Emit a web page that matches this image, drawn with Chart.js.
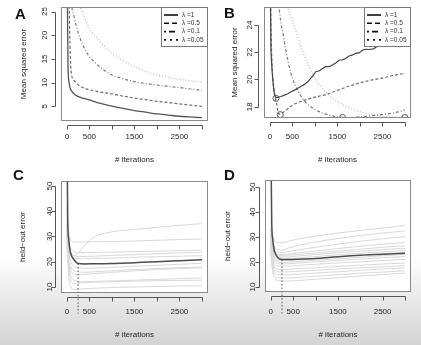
<!DOCTYPE html>
<html>
<head>
<meta charset="utf-8">
<script src="https://cdn.jsdelivr.net/npm/chart.js@4.4.1/dist/chart.umd.min.js"></script>
<style>
  html, body { margin: 0; padding: 0; }
  body { width: 421px; height: 345px; position: relative; overflow: hidden;
    background: linear-gradient(to bottom, #fff 0%, #fff 74%, #d3d3d3 100%); }
  canvas { position: absolute; }
  .tag { position: absolute; font: bold 15px "Liberation Sans", Arial, sans-serif; line-height: 15px; color: #111; }
</style>
</head>
<body>
<canvas id="chartA" width="210" height="172" style="left:0;top:0"></canvas>
<canvas id="chartB" width="211" height="172" style="left:210px;top:0"></canvas>
<canvas id="chartC" width="210" height="173" style="left:0;top:172px"></canvas>
<canvas id="chartD" width="211" height="173" style="left:210px;top:172px"></canvas>
<div class="tag" style="left:15px;top:6px">A</div>
<div class="tag" style="left:224px;top:5px">B</div>
<div class="tag" style="left:13px;top:167px">C</div>
<div class="tag" style="left:224px;top:167px">D</div>
<script>
// ---- data ----
const iterTicks = [0, 500, 1000, 1500, 2000, 2500, 3000];
const iterTickLabels = ["0", "500", "", "1500", "", "2500", ""];
const lambdaLabels = ["λ =1", "λ =0.5", "λ =0.1", "λ =0.05"];

// panel A: training mean squared error
const trainIter = [0, 25, 50, 75, 100, 150, 200, 300, 400, 500, 750, 1000, 1250, 1500, 1750, 2000, 2250, 2500, 2750, 3000];
const trainLam1 = [40, 14, 10, 8.8, 8.3, 7.7, 7.3, 6.9, 6.6, 6.35, 5.6, 5.05, 4.55, 4.1, 3.75, 3.4, 3.15, 2.9, 2.75, 2.6];
const trainLam05 = [60, 42, 27, 16, 12, 10.6, 10, 9.2, 8.8, 8.5, 8.0, 7.6, 7.15, 6.75, 6.4, 6.05, 5.8, 5.5, 5.25, 5.0];
const trainLam01 = [40, 36, 32, 29, 26.5, 24.3, 22.3, 19.2, 17.0, 15.5, 13.2, 11.6, 10.8, 10.2, 9.8, 9.5, 9.2, 8.95, 8.65, 8.4];
const trainLam005 = [38, 36.5, 35, 33.5, 32.2, 30.2, 28.6, 25.9, 23.5, 21.5, 18.5, 16.3, 14.6, 13.4, 12.4, 11.6, 11.1, 10.7, 10.4, 10.15];

// panel B: test mean squared error
const testIterLam1 = [0, 25, 50, 75, 100, 135, 175, 250, 320, 400, 470, 540, 620, 700, 760, 840, 950, 1020, 1100, 1170, 1240, 1320, 1390, 1470, 1540, 1610, 1690, 1760, 1840, 1910, 1990, 2060, 2130, 2200, 2300, 2400, 2500, 2600, 2700, 2800, 2900, 3000];
const testLam1 = [30, 22.0, 20.6, 19.6, 18.95, 18.65, 18.68, 18.75, 18.85, 18.95, 19.1, 19.2, 19.35, 19.5, 19.62, 19.83, 20.25, 20.57, 20.64, 20.81, 20.94, 20.94, 21.06, 21.23, 21.43, 21.43, 21.55, 21.72, 21.8, 21.92, 21.97, 22.16, 22.21, 22.2, 22.25, 22.45, 22.6, 22.75, 22.9, 23.0, 23.1, 23.2];
const testLam05 = [30, 24, 21, 19.8, 19.0, 18.2, 17.45, 17.6, 17.85, 18.1, 18.45, 18.7, 18.9, 19.2, 19.5, 19.75, 19.95, 20.1, 20.3, 20.45];
const testLam01 = [60, 50, 43, 38, 34, 29, 25.6, 23.2, 21.4, 20.1, 18.5, 17.8, 17.45, 17.25, 17.2, 17.25, 17.33, 17.42, 17.55, 17.75];
const testLam005 = [33, 32, 31, 30.4, 29.8, 28.7, 27.7, 26.4, 25.25, 24.3, 21.9, 20.1, 19.05, 18.37, 17.93, 17.65, 17.45, 17.32, 17.24, 17.2];
const minIter = [134, 232, 1615, 3000];
const minMse = [18.61, 17.42, 17.21, 17.21];

// panels C and D: held-out error per fold and the average
const meanIter = [0, 20, 40, 70, 100, 150, 250, 400, 600, 1000, 1500, 2000, 2500, 3000];
const heldIter = [0, 50, 100, 150, 250, 400, 600, 1000, 1500, 2000, 2500, 3000];
const bestIter = 250;
const meanC = [75, 36, 29, 24.5, 22.5, 21.0, 19.3, 19.15, 19.2, 19.3, 19.65, 20.0, 20.4, 20.8];
const bestC = [19.3, -0.6];
const foldsC = [
  [40, 27, 23.5, 22.5, 23.5, 26.5, 29.8, 31.8, 32.8, 33.6, 34.4, 35.1],
  [42, 31, 28.5, 28, 27.8, 27.8, 27.9, 28.0, 28.2, 28.5, 28.8, 29.0],
  [38, 28, 25, 24, 23.7, 23.6, 23.7, 23.8, 24.0, 24.2, 24.4, 24.6],
  [36, 26, 23, 22.4, 22.1, 22.1, 22.2, 22.5, 22.8, 23.2, 23.5, 23.8],
  [35, 25, 22.5, 21.6, 21.2, 21.2, 21.3, 21.5, 21.8, 22.0, 22.2, 22.4],
  [34, 23, 19.5, 18.3, 17.6, 17.4, 17.5, 17.8, 18.2, 18.6, 19.0, 19.4],
  [33, 21, 17.5, 16.5, 16.0, 15.8, 16.0, 16.4, 16.9, 17.3, 17.6, 17.9],
  [31, 20, 16.2, 15.3, 14.9, 15.0, 15.3, 15.8, 16.4, 16.9, 17.3, 17.6],
  [30, 18, 13.8, 12.8, 12.2, 12.1, 12.2, 12.4, 12.7, 13.0, 13.3, 13.6],
  [28, 16, 12.0, 11.4, 11.5, 11.7, 11.9, 12.1, 12.3, 12.5, 12.6, 12.7],
  [26, 13, 9.6, 9.0, 9.1, 9.3, 9.5, 9.8, 10.0, 10.2, 10.4, 10.5]
];
const meanD = [75, 36, 29.5, 25.2, 23.5, 21.9, 21.0, 21.0, 21.1, 21.4, 22.1, 22.7, 23.1, 23.5];
const bestD = [21.0, -0.6];
const foldsD = [
  [36, 30, 28.2, 27.8, 27.7, 28.3, 29.2, 30.3, 31.6, 32.6, 33.6, 34.5],
  [34, 28, 25.5, 24.9, 24.8, 25.6, 26.6, 28.0, 29.4, 30.6, 31.6, 32.4],
  [33, 27, 24.6, 24.0, 23.8, 24.2, 24.8, 25.9, 27.2, 28.3, 29.3, 30.2],
  [32, 26, 23.8, 23.2, 23.0, 23.2, 23.6, 24.4, 25.4, 26.3, 27.1, 27.8],
  [31, 25.5, 23.2, 22.7, 22.5, 22.7, 23.0, 23.6, 24.4, 25.1, 25.9, 26.5],
  [31, 25, 22.7, 22.2, 22.0, 22.1, 22.4, 23.0, 23.7, 24.3, 25.0, 25.5],
  [30, 24, 21.9, 21.4, 21.2, 21.3, 21.6, 22.2, 22.9, 23.5, 24.1, 24.6],
  [29, 23.5, 21.2, 20.7, 20.5, 20.6, 20.9, 21.5, 22.1, 22.7, 23.3, 23.8],
  [29, 23, 20.5, 20.0, 19.8, 19.9, 20.2, 20.7, 21.3, 21.9, 22.5, 23.0],
  [28, 22, 19.9, 19.4, 19.2, 19.3, 19.6, 20.1, 20.6, 21.2, 21.7, 22.2],
  [28, 21, 19.0, 18.5, 18.3, 18.4, 18.6, 19.1, 19.6, 20.1, 20.6, 21.0],
  [27, 20, 17.7, 17.2, 17.0, 17.1, 17.3, 17.7, 18.2, 18.7, 19.2, 19.6],
  [26, 19, 16.7, 16.2, 16.0, 16.1, 16.3, 16.7, 17.2, 17.7, 18.1, 18.5],
  [25, 18, 15.6, 15.0, 14.8, 14.9, 15.1, 15.6, 16.1, 16.7, 17.2, 17.6],
  [24, 16.5, 14.3, 13.7, 13.5, 13.6, 13.8, 14.3, 14.9, 15.5, 16.0, 16.5],
  [23, 15.5, 13.2, 12.6, 12.4, 12.4, 12.6, 13.1, 13.7, 14.4, 15.0, 15.6]
];

// ---- styling ----
const fontFamily = '"Liberation Sans", Arial, sans-serif';
const textColor = "#262626";
const lamStyles = [
  { color: "#555", width: 1.3, dash: [], legendDash: [] },
  { color: "#6e6e6e", width: 1.2, dash: [3, 2], legendDash: [5, 3] },
  { color: "#7a7a7a", width: 1.2, dash: [1, 2, 3, 2], legendDash: [2, 3, 6, 3] },
  { color: "#b5b5b5", width: 1.2, dash: [1, 2], legendDash: [2, 4] }
];

const pts = (xs, ys) => xs.map((x, i) => ({ x: x, y: ys[i] }));

function lineSet(data, color, width, dash, extra) {
  return Object.assign({
    data: data, borderColor: color, borderWidth: width, borderDash: dash,
    pointRadius: 0, fill: false, cubicInterpolationMode: "monotone"
  }, extra || {});
}

// box around the plot + R-like detached axes
const rStyle = {
  id: "rStyle",
  beforeDatasetsDraw(chart) {
    const { ctx, chartArea: a } = chart;
    ctx.save();
    ctx.fillStyle = "#fff";
    ctx.fillRect(a.left, a.top, a.width, a.height);
    ctx.restore();
  },
  afterDraw(chart) {
    const { ctx, chartArea: a, scales } = chart;
    const x = scales.x, y = scales.y;
    ctx.save();
    ctx.strokeStyle = "#8a8a8a";
    ctx.lineWidth = 1;
    ctx.strokeRect(a.left + 0.5, a.top + 0.5, a.width - 1, a.height - 1);
    ctx.strokeStyle = "#555";
    ctx.beginPath();
    const xs = x.ticks.map(t => Math.round(x.getPixelForValue(t.value)) + 0.5);
    const ay = Math.round(a.bottom) + 4.5;
    ctx.moveTo(xs[0], ay); ctx.lineTo(xs[xs.length - 1], ay);
    xs.forEach(px => { ctx.moveTo(px, ay); ctx.lineTo(px, ay + 4); });
    const ys = y.ticks.map(t => Math.round(y.getPixelForValue(t.value)) + 0.5);
    const ax = Math.round(a.left) - 5.5;
    ctx.moveTo(ax, ys[0]); ctx.lineTo(ax, ys[ys.length - 1]);
    ys.forEach(py => { ctx.moveTo(ax, py); ctx.lineTo(ax - 4, py); });
    ctx.stroke();
    ctx.restore();
  }
};

const rLegend = {
  id: "rLegend",
  afterDraw(chart, args, opts) {
    if (!opts.show) return;
    const { ctx, chartArea: a } = chart;
    const w = 47, h = 40;
    const left = a.right - w, top = a.top;
    ctx.save();
    ctx.fillStyle = "#fff";
    ctx.fillRect(left, top, w, h);
    ctx.strokeStyle = "#7a7a7a";
    ctx.lineWidth = 1;
    ctx.strokeRect(left + 0.5, top + 0.5, w - 1, h - 1);
    lambdaLabels.forEach((label, i) => {
      const yy = top + 8 + i * 8.3;
      ctx.setLineDash(lamStyles[i].legendDash);
      ctx.strokeStyle = "#111";
      ctx.lineWidth = 1.6;
      ctx.beginPath(); ctx.moveTo(left + 3, yy); ctx.lineTo(left + 17, yy); ctx.stroke();
      ctx.setLineDash([]);
      ctx.fillStyle = "#333";
      ctx.font = "6.5px " + fontFamily;
      ctx.textBaseline = "middle";
      ctx.fillText(label, left + 21, yy);
    });
    ctx.restore();
  }
};

function makeChart(id, datasets, p) {
  return new Chart(document.getElementById(id), {
    type: "line",
    data: { datasets: datasets },
    plugins: [rStyle, rLegend],
    options: {
      responsive: false, animation: false, events: [],
      layout: { padding: p.padding },
      plugins: { legend: { display: false }, tooltip: { enabled: false }, rLegend: { show: !!p.legend } },
      scales: {
        x: {
          type: "linear", min: -130, max: 3135,
          grid: { display: false, drawTicks: false }, border: { display: false },
          afterBuildTicks: s => { s.ticks = iterTicks.map(v => ({ value: v })); },
          ticks: { font: { family: fontFamily, size: 8 }, color: textColor, padding: p.xPad,
                   autoSkip: false, maxRotation: 0, callback: (v, i) => iterTickLabels[i] },
          title: { display: true, text: "# iterations", font: { family: fontFamily, size: 8 },
                   color: textColor, padding: { top: 0, bottom: p.xTitlePad } },
          afterFit: s => { s.height = p.xHeight; s.paddingLeft = 0; s.paddingRight = 0; }
        },
        y: {
          type: "linear", min: p.yMin, max: p.yMax,
          grid: { display: false, drawTicks: false }, border: { display: false },
          afterBuildTicks: s => { s.ticks = p.yTicks.map(v => ({ value: v })); },
          ticks: { font: { family: fontFamily, size: 8 }, color: textColor, padding: p.yPad,
                   minRotation: 90, maxRotation: 90, crossAlign: "center" },
          title: { display: true, text: p.yTitle, font: { family: fontFamily, size: 8 },
                   color: textColor, padding: { top: p.yTitlePad, bottom: 0 } },
          afterFit: s => { s.width = p.yWidth; s.paddingTop = 0; s.paddingBottom = 0; }
        }
      }
    }
  });
}

// A
const trainSeries = [trainLam1, trainLam05, trainLam01, trainLam005];
makeChart("chartA",
  trainSeries.map((ys, i) => lineSet(pts(trainIter, ys), lamStyles[i].color, lamStyles[i].width, lamStyles[i].dash)),
  { padding: { top: 7, right: 2, left: 0, bottom: 0 }, yWidth: 61, xHeight: 51,
    yMin: 1.9, yMax: 25.95, yTicks: [5, 10, 15, 20, 25], xPad: 11, xTitlePad: 7, yPad: 11.5, yTitlePad: 19,
    yTitle: "Mean squared error", legend: true });

// B
makeChart("chartB", [
  lineSet(pts(minIter, minMse), "#555", 1, [], { showLine: false, pointRadius: 3, pointBorderColor: "#555",
    pointBackgroundColor: "rgba(0,0,0,0)", pointBorderWidth: 1 }),
  lineSet(pts(testIterLam1, testLam1), "#444", 1.2, [], { cubicInterpolationMode: "default", tension: 0 }),
  lineSet(pts(trainIter, testLam05), lamStyles[1].color, 1.2, lamStyles[1].dash),
  lineSet(pts(trainIter, testLam01), lamStyles[2].color, 1.2, lamStyles[2].dash),
  lineSet(pts(trainIter, testLam005), lamStyles[3].color, 1.2, lamStyles[3].dash)
], { padding: { top: 7, right: 10, left: 0, bottom: 0 }, yWidth: 54, xHeight: 54,
     yMin: 17.17, yMax: 25.32, yTicks: [18, 20, 22, 24], xPad: 14, xTitlePad: 7, yPad: 9.5, yTitlePad: 20,
     yTitle: "Mean squared error", legend: true });

// C
makeChart("chartC", [
  lineSet(pts(meanIter, meanC), "#4d4d4d", 1.5, []),
  lineSet([{ x: bestIter, y: bestC[0] }, { x: bestIter, y: bestC[1] }], "#555", 1, [1.5, 2], { clip: false }),
  ...foldsC.map(ys => lineSet(pts(heldIter, ys), "#d9d9d9", 1, []))
], { padding: { top: 9, right: 2, left: 0, bottom: 0 }, yWidth: 61, xHeight: 52,
     yMin: 7.62, yMax: 51.98, yTicks: [10, 20, 30, 40, 50], xPad: 14, xTitlePad: 5, yPad: 7, yTitlePad: 18,
     yTitle: "held−out error" });

// D
makeChart("chartD", [
  lineSet(pts(meanIter, meanD), "#4d4d4d", 1.5, []),
  lineSet([{ x: bestIter, y: bestD[0] }, { x: bestIter, y: bestD[1] }], "#555", 1, [1.5, 2], { clip: false }),
  ...foldsD.map(ys => lineSet(pts(heldIter, ys), "#d9d9d9", 1, []))
], { padding: { top: 8, right: 10, left: 0, bottom: 0 }, yWidth: 55, xHeight: 53,
     yMin: 8.0, yMax: 52.8, yTicks: [10, 20, 30, 40, 50], xPad: 15, xTitlePad: 5, yPad: 7.5, yTitlePad: 13,
     yTitle: "held−out error" });
</script>
</body>
</html>
